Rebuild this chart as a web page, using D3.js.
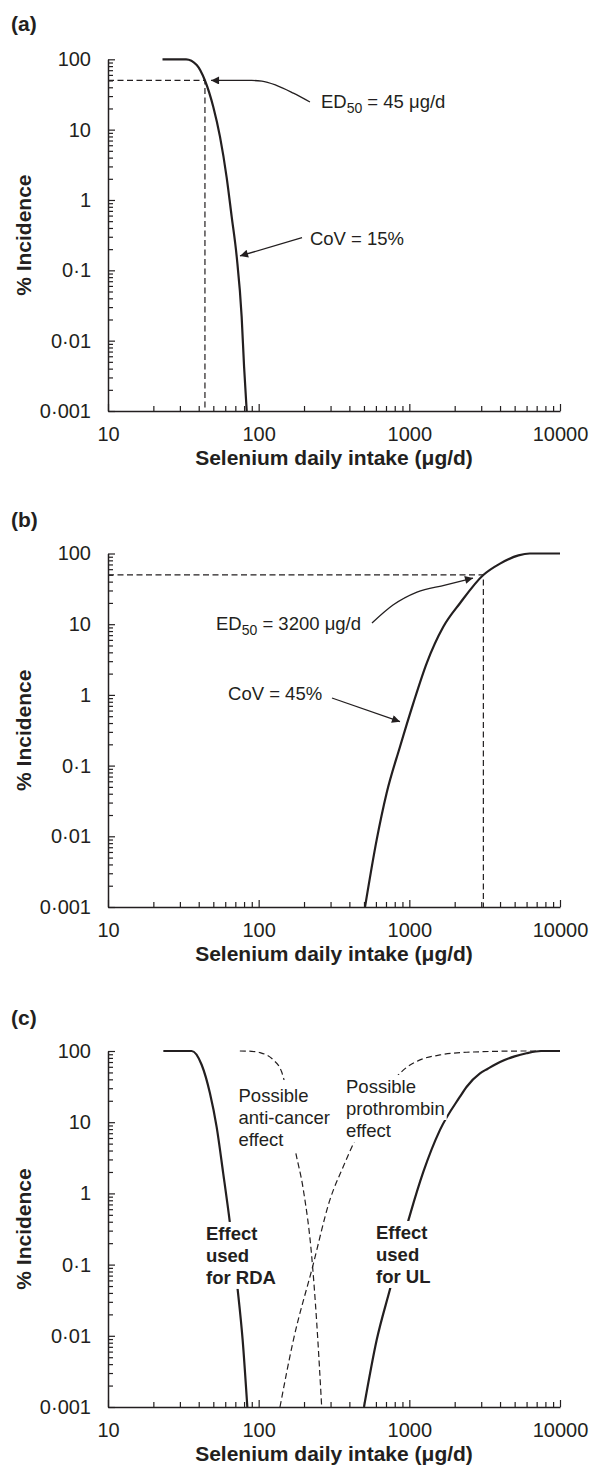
<!DOCTYPE html>
<html>

<head>
    <meta charset="utf-8">
    <style>
        body { margin: 0; background: #fff; }
        text { font-family: "Liberation Sans", Arial, Helvetica, sans-serif; fill: #231f20; }
        .tick text { font-size: 20px; }
        .axis-title, .panel-label { font-size: 21px; font-weight: bold; }
        .note { font-size: 18.5px; }
        .note-bold { font-size: 18.5px; font-weight: bold; }
    </style>

    <script src="https://cdnjs.cloudflare.com/ajax/libs/d3/7.8.5/d3.min.js"></script>

    <title>Selenium dose-response</title>
</head>

<body>
    <script>

        // tick labels
        const xTickValues = [10, 100, 1000, 10000];
        const xTickLabels = ["10", "100", "1000", "10000"];
        const yTickValues = [0.001, 0.01, 0.1, 1, 10, 100];
        const yTickLabels = ["0·001", "0·01", "0·1", "1", "10", "100"];

        // (a) deficiency response, [intake µg/d, % incidence]
        const deficiencyA = [[23, 100], [33, 100], [38.8, 83], [44, 50], [50, 21], [55.4, 7.9], [61.3, 2.1],
            [66.2, 0.58], [71.5, 0.156], [77.1, 0.022], [80, 0.0043], [83.3, 0.001]];
        const ed50A = 44;

        // (b) toxicity response
        const toxicityB = [[508, 0.001], [607, 0.0089], [707, 0.041], [867, 0.185], [1062, 0.76], [1303, 2.8],
            [1681, 9.2], [2168, 19.8], [3097, 49.7], [4000, 72], [5300, 94], [6300, 100], [10000, 100]];
        const ed50B = 3100;

        // (c) all four effects
        const rdaC = [[23.3, 100], [35.9, 100], [41.9, 63.6], [47.5, 25.5], [52.6, 8.6], [58.2, 1.9], [64.5, 0.38],
            [72.2, 0.049], [78.3, 0.0087], [84.1, 0.001]];
        const antiCancerC = [[75, 100], [90, 99], [102, 95], [125, 75], [142, 51], [147, 40], [174, 4.3],
            [198, 1.12], [225, 0.13], [243, 0.015], [262, 0.001]];
        const prothrombinC = [[138.5, 0.001], [170, 0.0087], [227, 0.09], [297, 0.81], [364, 2.37], [447, 6.25],
            [824, 43.5], [960, 59], [1177, 75], [1598, 88], [2400, 96], [6000, 100], [10000, 100]];
        const ulC = [[500, 0.001], [607, 0.0087], [744, 0.045], [1010, 0.5], [1238, 2], [1598, 7.8],
            [2168, 22.8], [2403, 31.5], [2944, 48.6], [3300, 56], [4000, 70], [5000, 84], [6000, 93],
            [7500, 100], [10000, 100]];

        const width = 589;
        const height = 1471;
        const ink = "#231f20";

        const svg = d3.select("body").append("svg")
            .attr("width", width).attr("height", height);

        svg.append("defs").append("marker")
            .attr("id", "arrow")
            .attr("viewBox", "0 0 10 10")
            .attr("refX", 10).attr("refY", 5)
            .attr("markerWidth", 12).attr("markerHeight", 8)
            .attr("markerUnits", "userSpaceOnUse")
            .attr("orient", "auto-start-reverse")
            .append("path")
            .attr("d", "M0,0L10,5L0,10Z")
            .attr("fill", ink);

        const x = d3.scaleLog().domain([10, 10000]).range([108, 560]);

        const panels = [
            {
                label: "(a)", labelY: 31, top: 59.3, bottom: 411,
                curves: [{ data: deficiencyA }],
                ed50: ed50A,
                arrows: [
                    { pts: [[48.3, 50], [90, 50], [105, 49], [130, 43], [170, 33], [219, 24.7]], head: "start" },
                    { pts: [[75.2, 0.16], [194, 0.291]], head: "start" }
                ],
                notes: [
                    { at: [259, 20.3], ed: "45" },
                    { at: [219, 0.229], lines: ["CoV = 15%"] }
                ]
            },
            {
                label: "(b)", labelY: 527, top: 553.5, bottom: 907,
                curves: [{ data: toxicityB }],
                ed50: ed50B,
                arrows: [
                    { pts: [[565, 10.4], [779, 18.7], [1124, 28.5], [1725, 35.8], [2646, 45]], head: "end" },
                    { pts: [[306.6, 0.904], [867, 0.418]], head: "end" }
                ],
                notes: [
                    { at: [52.1, 8.3], ed: "3200" },
                    { at: [62.6, 0.847], lines: ["CoV = 45%"] }
                ]
            },
            {
                label: "(c)", labelY: 1025, top: 1051, bottom: 1407,
                curves: [
                    { data: antiCancerC, dashed: true },
                    { data: prothrombinC, dashed: true },
                    { data: rdaC },
                    { data: ulC }
                ],
                arrows: [],
                notes: [
                    { at: [73.5, 19.2], lines: ["Possible", "anti-cancer", "effect"], bg: "block" },
                    { at: [380, 25.7], lines: ["Possible", "prothrombin", "effect"], bg: "line" },
                    { at: [44.7, 0.222], lines: ["Effect", "used", "for RDA"], bold: true, bg: "line" },
                    { at: [601, 0.229], lines: ["Effect", "used", "for UL"], bold: true, bg: "line" }
                ]
            }
        ];

        const isMajor = v => Math.abs(Math.log10(v) - Math.round(Math.log10(v))) < 1e-6;
        const labelFor = (vals, labels) => v => {
            if (!isMajor(v)) return "";
            const i = vals.findIndex(t => Math.abs(Math.log10(t / v)) < 1e-6);
            return i < 0 ? "" : labels[i];
        };

        panels.forEach(drawPanel);

        function drawPanel(p) {
            const y = d3.scaleLog().domain([0.001, 100]).range([p.bottom, p.top]);
            const g = svg.append("g");
            const line = d3.line()
                .x(d => x(d[0]))
                .y(d => y(d[1]))
                .curve(d3.curveMonotoneX);

            g.append("text").attr("class", "panel-label")
                .attr("x", 11).attr("y", p.labelY).text(p.label);

            // axes with inward log ticks
            const gx = g.append("g")
                .attr("transform", `translate(0,${p.bottom})`)
                .attr("color", ink)
                .call(d3.axisBottom(x).tickValues(x.ticks()).tickSizeInner(-5).tickSizeOuter(0)
                    .tickPadding(16).tickFormat(labelFor(xTickValues, xTickLabels)));
            gx.selectAll(".tick").filter(d => isMajor(d)).select("line").attr("y2", -7);

            const gy = g.append("g")
                .attr("transform", `translate(${x.range()[0]},0)`)
                .attr("color", ink)
                .call(d3.axisLeft(y).tickValues(y.ticks()).tickSizeInner(-5).tickSizeOuter(0)
                    .tickPadding(17).tickFormat(labelFor(yTickValues, yTickLabels)));
            gy.selectAll(".tick").filter(d => isMajor(d)).select("line").attr("x2", 7);

            [gx, gy].forEach(a => {
                a.select(".domain").attr("stroke-width", 1.5);
                a.selectAll(".tick line").attr("stroke-width", 1.2);
            });

            g.append("text").attr("class", "axis-title")
                .attr("x", (x.range()[0] + x.range()[1]) / 2)
                .attr("y", p.bottom + 54)
                .attr("text-anchor", "middle")
                .text("Selenium daily intake (μg/d)");

            g.append("text").attr("class", "axis-title")
                .attr("transform", `translate(31,${(p.top + p.bottom) / 2}) rotate(-90)`)
                .attr("text-anchor", "middle")
                .text("% Incidence");

            // ED50 guide
            if (p.ed50) {
                g.append("path")
                    .datum([[10, 50], [p.ed50, 50], [p.ed50, 0.001]])
                    .attr("d", d3.line().x(d => x(d[0])).y(d => y(d[1])))
                    .attr("fill", "none")
                    .attr("stroke", ink)
                    .attr("stroke-width", 1.2)
                    .attr("stroke-dasharray", "6,3.5");
            }

            p.curves.forEach(c => {
                g.append("path")
                    .datum(c.data)
                    .attr("d", line)
                    .attr("fill", "none")
                    .attr("stroke", ink)
                    .attr("stroke-width", c.dashed ? 1.2 : 2.2)
                    .attr("stroke-dasharray", c.dashed ? "6,3.5" : null)
                    .attr("stroke-linejoin", "round");
            });

            p.arrows.forEach(a => {
                g.append("path")
                    .datum(a.pts)
                    .attr("d", line)
                    .attr("fill", "none")
                    .attr("stroke", ink)
                    .attr("stroke-width", 1.3)
                    .attr("marker-start", a.head === "start" ? "url(#arrow)" : null)
                    .attr("marker-end", a.head === "end" ? "url(#arrow)" : null);
            });

            p.notes.forEach(n => drawNote(g, n, y));
        }

        function drawNote(g, n, y) {
            const nx = x(n.at[0]);
            const ny = y(n.at[1]);
            const grp = g.append("g");

            if (n.ed) {
                const t = grp.append("text").attr("class", "note").attr("x", nx).attr("y", ny);
                t.append("tspan").text("ED");
                t.append("tspan").attr("dy", 5).style("font-size", "14px").text("50");
                t.append("tspan").attr("dy", -5).text(` = ${n.ed} μg/d`);
                return;
            }

            const texts = n.lines.map((s, i) => grp.append("text")
                .attr("class", n.bold ? "note-bold" : "note")
                .attr("x", nx).attr("y", ny + i * 22)
                .text(s).node());

            if (!n.bg) return;
            const boxes = texts.map(t => t.getBBox());
            const pad = 2;
            const rects = n.bg === "block"
                ? [{
                    x: d3.min(boxes, b => b.x), y: d3.min(boxes, b => b.y) - 4,
                    x2: d3.max(boxes, b => b.x + b.width) + 3, y2: d3.max(boxes, b => b.y + b.height)
                }]
                : boxes.map(b => ({ x: b.x, y: b.y, x2: b.x + b.width, y2: b.y + b.height }));

            rects.forEach(r => {
                grp.insert("rect", "text")
                    .attr("x", r.x - pad).attr("y", r.y - 1)
                    .attr("width", r.x2 - r.x + 2 * pad).attr("height", r.y2 - r.y + 2)
                    .attr("fill", "#fff");
            });
        }

    </script>
</body>

</html>
